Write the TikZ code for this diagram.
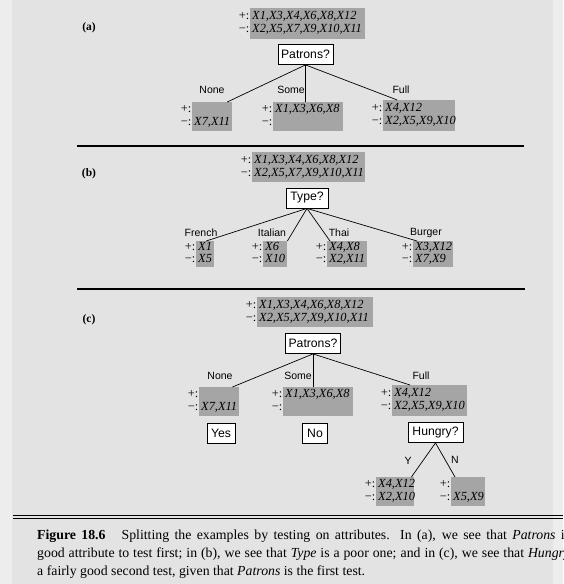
\documentclass[tikz,border=0pt]{standalone}
\usepackage{fontspec}
\setmainfont{Liberation Serif}
\setsansfont{Liberation Sans}
\usetikzlibrary{calc}
\definecolor{pagebg}{HTML}{E3E3E3}
\definecolor{edgebg}{HTML}{EDEDED}
\definecolor{shade}{HTML}{A5A5A5}
\newcommand\SetsFont{\fontsize{12.4}{12.8}\selectfont}
\newcommand\TestFont{\sffamily\fontsize{12.2}{14}\selectfont}
\newcommand\BranchFont{\sffamily\fontsize{10.5}{12}\selectfont}
\newcommand\PanelFont{\bfseries\fontsize{11.5}{13}\selectfont}
\newcommand\CapFont{\fontsize{13.8}{18}\selectfont}
\tikzset{
  setbox/.style={fill=shade, anchor=north west, inner xsep=2pt, inner ysep=0pt, align=left, font=\SetsFont\itshape},
  signs/.style={anchor=east, inner sep=0pt, align=left, font=\SetsFont},
  testnode/.style={draw=black, line width=0.8pt, fill=white, font=\TestFont, minimum height=20pt, inner sep=0pt},
  branch/.style={font=\BranchFont, inner sep=0pt},
  edge/.style={line width=0.7pt},
  rulebar/.style={line width=2pt},
  panel/.style={font=\PanelFont, inner sep=0pt},
  caption/.style={font=\CapFont, inner sep=0pt, align=left}
}
% name, x, y, width, height, line 1, line 2
\newcommand\SetBox[7]{%
  \pgfmathsetmacro\SBw{#4-4}%
  \node[setbox, minimum width=#4pt, minimum height=#5pt, text width=\SBw pt] (#1) at (#2,#3) {\strut #6\\\strut #7};
  \node[signs] (#1-sg) at ([xshift=-0.5pt]#1.west) {\strut+:\\\strut−:};
}
\begin{document}
\begin{tikzpicture}[x=1pt,y=-1pt]
\useasboundingbox (0,0) rectangle (563,584);
\clip (0,0) rectangle (563,584);
\fill[pagebg] (0,0) rectangle (563,584);
\fill[edgebg] (0,0) rectangle (12,584);
\fill[edgebg] (553,0) rectangle (563,584);

% ---------- (a)
\node[panel] (la) at (89,28) {(a)};
\SetBox{aTop}{250}{8}{115}{31}{X1,X3,X4,X6,X8,X12}{X2,X5,X7,X9,X10,X11}
\node[testnode, minimum width=55pt] (aPat) at (305.5,54.5) {Patrons?};
\SetBox{aNone}{192}{102}{40}{29}{}{X7,X11}
\SetBox{aSome}{273}{102}{70}{29}{X1,X3,X6,X8}{}
\SetBox{aFull}{383}{100}{72}{31}{X4,X12}{X2,X5,X9,X10}
\node[branch] (aLn) at (212,90) {None};
\node[branch] (aLs) at (291,90) {Some};
\node[branch] (aLf) at (401,90) {Full};
\draw[edge] (aPat.south) -- ([xshift=15pt]aNone.north);
\draw[edge] (aPat.south) -- (aPat.south |- aSome.north);
\draw[edge] (aPat.south) -- ([xshift=-22pt]aFull.north);

\coordinate (ra1) at (77,146);
\coordinate (ra2) at (524,146);
\draw[rulebar] (ra1) -- (ra2);

% ---------- (b)
\node[panel] (lb) at (89,174) {(b)};
\SetBox{bTop}{252}{152}{113}{30}{X1,X3,X4,X6,X8,X12}{X2,X5,X7,X9,X10,X11}
\node[testnode, minimum width=42pt] (bType) at (307,198) {Type?};
\SetBox{bFr}{196}{241}{18}{25}{X1}{X5}
\SetBox{bIt}{263}{241}{24}{25}{X6}{X10}
\SetBox{bTh}{327}{241}{40}{25}{X4,X8}{X2,X11}
\SetBox{bBu}{413}{241}{40}{25}{X3,X12}{X7,X9}
\node[branch] (bLf) at (201,233) {French};
\node[branch] (bLi) at (272,233) {Italian};
\node[branch] (bLt) at (339,233) {Thai};
\node[branch] (bLb) at (426,233) {Burger};
\draw[edge] (bType.south) -- ([xshift=1pt]bFr.north);
\draw[edge] (bType.south) -- (bIt.north east);
\draw[edge] (bType.south) -- ([xshift=3pt]bTh.north west);
\draw[edge] (bType.south) -- ([xshift=4pt]bBu.north west);

\coordinate (rb1) at (77,289);
\coordinate (rb2) at (525,289);
\draw[rulebar] (rb1) -- (rb2);

% ---------- (c)
\node[panel] (lc) at (89,320) {(c)};
\SetBox{cTop}{257}{297}{116}{30}{X1,X3,X4,X6,X8,X12}{X2,X5,X7,X9,X10,X11}
\node[testnode, minimum width=55pt] (cPat) at (313,343.5) {Patrons?};
\SetBox{cNone}{199}{387}{40}{29}{}{X7,X11}
\SetBox{cSome}{283}{387}{70}{29}{X1,X3,X6,X8}{}
\SetBox{cFull}{392}{385}{75}{31}{X4,X12}{X2,X5,X9,X10}
\node[branch] (cLn) at (220,376) {None};
\node[branch] (cLs) at (298,376) {Some};
\node[branch] (cLf) at (421,376) {Full};
\draw[edge] (cPat.south) -- ([xshift=-7pt]cNone.north east);
\draw[edge] (cPat.south) -- (cPat.south |- cSome.north);
\draw[edge] (cPat.south) -- ([xshift=18pt]cFull.north west);
\node[testnode, minimum width=28pt] (cYes) at (221,433) {Yes};
\node[testnode, minimum width=25pt] (cNo) at (315,433) {No};
\node[testnode, minimum width=55pt] (cHun) at (435.5,432.5) {Hungry?};
\SetBox{cY}{376}{477}{38}{29}{X4,X12}{X2,X10}
\SetBox{cN}{451}{477}{34}{29}{}{X5,X9}
\node[branch] (cLy) at (408,461) {Y};
\node[branch] (cLno) at (455,460) {N};
\draw[edge] (cHun.south) -- ([xshift=-3pt]cY.north east);
\draw[edge] (cHun.south) -- ([xshift=4pt]cN.north west);

% ---------- caption
\draw[line width=0.6pt] (13,515.5) -- (563,515.5);
\draw[line width=1.6pt] (13,518.5) -- (563,518.5);
\node[caption, anchor=north west] (cap) at (37,530) {%
\makebox[533pt][s]{\textbf{Figure 18.6}\hspace{16pt}Splitting the examples by testing on attributes. In (a), we see that \textit{Patrons} is}\\
\makebox[533pt][s]{good attribute to test first; in (b), we see that \textit{Type} is a poor one; and in (c), we see that \textit{Hungry}}\\
a fairly good second test, given that \textit{Patrons} is the first test.};
\end{tikzpicture}
\end{document}
